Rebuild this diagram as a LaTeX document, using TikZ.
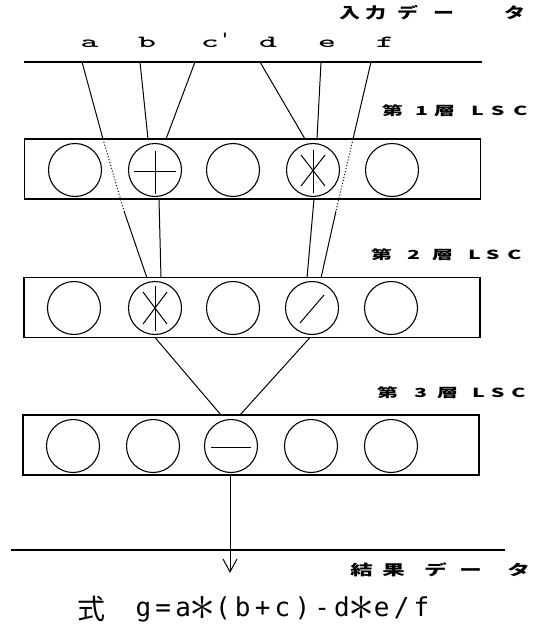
\documentclass[tikz,border=0pt]{standalone}
\usepackage{fontspec}
\usetikzlibrary{arrows.meta}
\newfontfamily\jp{Noto Sans CJK JP}
\newfontfamily\formfont{DejaVu Sans Mono}
\newcommand\cc[1]{\makebox[0pt]{#1}}
\newcommand\sq[2][1.7]{\scalebox{#1}[1]{#2}}
\newcommand\fc[1]{\makebox[19.86pt]{#1}}
\newcommand\fast{\smash{\raisebox{-4pt}{\scalebox{2.1}{$\ast$}}}}
\begin{document}
\begin{tikzpicture}[x=1pt,y=-1pt,line width=1.1pt,
  box/.style={draw,minimum width=456pt,minimum height=60pt,inner sep=0pt},
  cell/.style={draw,circle,minimum size=53pt,inner sep=0pt},
  wire/.style={line width=1pt},
  dotwire/.style={line width=1pt,dotted},
  lett/.style={anchor=base,inner sep=0pt,font=\ttfamily\bfseries\fontsize{17}{17}\selectfont},
  jlab/.style={anchor=west,inner sep=0pt,font=\jp\bfseries\fontsize{12.5}{12.5}\selectfont},
  symb/.style={line width=1pt}]
\useasboundingbox (0,0) rectangle (541,626);
\fill[white] (0,0) rectangle (541,626);

% input data line and labels
\draw (24,62) -- (482,62);
\node[anchor=west,inner sep=0pt,font=\jp\bfseries\fontsize{15}{15}\selectfont] (inlab) at (349,13)
  {\cc{\sq[1.4]{入}}\hspace{26pt}\cc{\sq[1.4]{力}}\hspace{32pt}\cc{\sq[1.4]{デ}}\hspace{36pt}\cc{\sq[1.4]{ー}}\hspace{71pt}\cc{\sq[1.4]{タ}}};
\node[lett] (la) at (89.5,48) {\sq[2]{a}};
\node[lett] (lb) at (147,48) {\sq[2]{b}};
\node[lett] (lc) at (210,48) {\sq[2]{c}};
\node[lett] (lq) at (225,44) {\sq[1.2]{'}};
\node[lett] (ld) at (268,48) {\sq[2]{d}};
\node[lett] (le) at (327,48) {\sq[2]{e}};
\node[lett] (lf) at (385,48) {\sq[2]{f}};

% layer labels
\node[jlab] (t1) at (392,110.5) {\cc{\sq{第}}\hspace{29pt}\cc{\sq{1}}\hspace{23pt}\cc{\sq{層}}\hspace{33pt}\cc{\sq{L}}\hspace{20pt}\cc{\sq{S}}\hspace{23pt}\cc{\sq{C}}};
\node[jlab] (t2) at (381,255) {\cc{\sq{第}}\hspace{32pt}\cc{\sq{2}}\hspace{29pt}\cc{\sq{層}}\hspace{32pt}\cc{\sq{L}}\hspace{18pt}\cc{\sq{S}}\hspace{22pt}\cc{\sq{C}}};
\node[jlab] (t3) at (387,393) {\cc{\sq{第}}\hspace{33pt}\cc{\sq{3}}\hspace{27pt}\cc{\sq{層}}\hspace{31pt}\cc{\sq{L}}\hspace{19pt}\cc{\sq{S}}\hspace{21pt}\cc{\sq{C}}};

% boxes
\node[box] (L1) at (252.5,169) {};
\node[box] (L2) at (252,307.5) {};
\node[box] (L3) at (251,445) {};

% cells
\foreach \x [count=\i] in {75,155,233,313,392} \node[cell] (n1\i) at (\x,170) {};
\foreach \x [count=\i] in {74,155,233,312,391} \node[cell] (n2\i) at (\x,308) {};
\foreach \x [count=\i] in {73,153,231,311,391} \node[cell] (n3\i) at (\x,446) {};

% operators
\draw[symb] ([shift={(-21,1)}]n12.center) -- ([shift={(21,1)}]n12.center);
\draw[symb] ([shift={(0,-19)}]n12.center) -- ([shift={(0,24)}]n12.center);
\draw[symb] ([shift={(0,-20)}]n14.center) -- ([shift={(0,23)}]n14.center);
\draw[symb] ([shift={(-12,-15)}]n14.center) -- ([shift={(12,16)}]n14.center);
\draw[symb] ([shift={(12,-15)}]n14.center) -- ([shift={(-12,16)}]n14.center);
\draw[symb] ([shift={(0,-22)}]n22.center) -- ([shift={(0,23)}]n22.center);
\draw[symb] ([shift={(-12,-16)}]n22.center) -- ([shift={(12,16)}]n22.center);
\draw[symb] ([shift={(12,-16)}]n22.center) -- ([shift={(-12,16)}]n22.center);
\draw[symb] ([shift={(-12,15)}]n24.center) -- ([shift={(12,-13)}]n24.center);
\draw[symb] ([shift={(-20,1)}]n33.center) -- ([shift={(20,1)}]n33.center);

% connector points
\coordinate (ia) at (82,62);
\coordinate (ib) at (140,62);
\coordinate (ic) at (195,62);
\coordinate (id) at (260,62);
\coordinate (ie) at (321,62);
\coordinate (if) at (371,62);
\coordinate (a1) at (103,139);
\coordinate (a2) at (124,211);
\coordinate (a3) at (147,278);
\coordinate (b1) at (148,139);
\coordinate (c1) at (166,139);
\coordinate (d1) at (305,139);
\coordinate (e1) at (317,139);
\coordinate (f1) at (353,139);
\coordinate (f2) at (336,211);
\coordinate (f3) at (321,278);
\coordinate (p1) at (159,199);
\coordinate (p2) at (161,278);
\coordinate (q1) at (314,199);
\coordinate (q2) at (307,278);
\coordinate (r1) at (155,337.5);
\coordinate (s1) at (310,337.5);
\coordinate (r2) at (221,415);
\coordinate (s2) at (240,415);

\draw[wire] (ia) -- (a1);
\draw[dotwire] (a1) -- (a2);
\draw[wire] (a2) -- (a3);
\draw[wire] (ib) -- (b1);
\draw[wire] (ic) -- (c1);
\draw[wire] (id) -- (d1);
\draw[wire] (ie) -- (e1);
\draw[wire] (if) -- (f1);
\draw[dotwire] (f1) -- (f2);
\draw[wire] (f2) -- (f3);
\draw[wire] (p1) -- (p2);
\draw[wire] (q1) -- (q2);
\draw[wire] (r1) -- (r2);
\draw[wire] (s1) -- (s2);

% output
\coordinate (tip) at (230,573);
\draw[wire,-{Straight Barb[length=13pt,width=14pt,line width=1pt]}] (L3.south -| tip) -- (tip);
\draw (11,550) -- (505,550);
\node[anchor=west,inner sep=0pt,font=\jp\bfseries\fontsize{14.5}{14.5}\selectfont] (outlab) at (361,570)
  {\cc{\sq[1.55]{結}}\hspace{32pt}\cc{\sq[1.55]{果}}\hspace{42pt}\cc{\sq[1.55]{デ}}\hspace{35pt}\cc{\sq[1.55]{ー}}\hspace{48pt}\cc{\sq[1.55]{タ}}};

% formula
\node[inner sep=0pt,font=\jp\fontsize{28}{28}\selectfont] (shiki) at (91,609) {式};
\node[anchor=west,inner sep=0pt,font=\formfont\fontsize{26}{26}\selectfont] (formula) at (133,609)
  {\fc{g}\fc{=}\fc{a}\fc{\fast}\fc{(}\fc{b}\fc{+}\fc{c}\fc{)}\fc{-}\fc{d}\fc{\fast}\fc{e}\fc{/}\fc{f}};
\end{tikzpicture}
\end{document}
